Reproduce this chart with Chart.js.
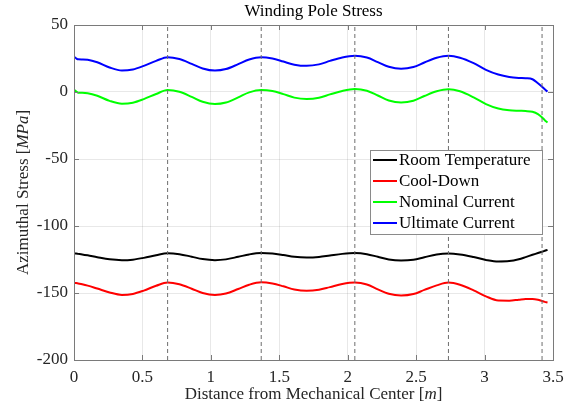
<!DOCTYPE html>
<html><head><meta charset="utf-8">
<script src="https://cdn.jsdelivr.net/npm/chart.js@4.4.0/dist/chart.umd.min.js"></script>
<style>html,body{margin:0;padding:0;background:#fff}#wrap{width:577px;height:406px}</style>
</head><body><div id="wrap"><canvas id="c" width="577" height="406"></canvas></div>
<script>
const xPos = [0, 0.015, 0.03, 0.06, 0.1, 0.17, 0.26, 0.35, 0.43, 0.51, 0.6, 0.684, 0.77, 0.86, 0.94, 1.03, 1.11, 1.2, 1.28, 1.368, 1.45, 1.53, 1.61, 1.70, 1.79, 1.87, 1.96, 2.052, 2.14, 2.22, 2.3, 2.39, 2.48, 2.56, 2.65, 2.736, 2.82, 2.92, 3.01, 3.1, 3.18, 3.25, 3.3, 3.35, 3.39, 3.42, 3.44, 3.46];
const roomTemp = [-120.5, -120.6, -120.8, -121.2, -121.9, -123.3, -124.9, -125.5, -125.1, -123.8, -121.8, -120.3, -121, -122.9, -124.7, -125.5, -124.9, -123, -121.2, -120.2, -120.6, -121.7, -123, -123.5, -123.1, -122, -120.8, -120.2, -121, -123, -125, -125.8, -125.2, -123.3, -121.3, -120.6, -121.3, -123.2, -125.3, -126.5, -126.2, -124.8, -123.2, -121.5, -120.2, -119.2, -118.5, -117.8];
const coolDown = [-142.5, -142.6, -142.9, -143.5, -144.5, -146.7, -149.6, -151.4, -150.7, -148.2, -144.6, -142.2, -143.5, -146.8, -150, -151.4, -150.4, -147, -143.8, -142, -142.9, -145, -147.4, -148.4, -147.6, -145.6, -143.3, -142.2, -143.6, -147.3, -150.6, -151.9, -150.8, -147.7, -144.3, -142.2, -143.8, -148, -152.5, -155.6, -155.7, -155, -154.5, -154.4, -155, -156, -156.6, -157.1];
const nominal = [1.7, 0.5, -0.5, -0.6, -0.9, -2.8, -6.6, -8.7, -8, -5.3, -1.5, 1.5, 0.2, -3.6, -7.3, -9, -7.9, -4, -0.3, 1.5, 0.7, -1.6, -4.2, -5.2, -4.3, -1.8, 0.8, 2.2, 0.9, -2.6, -6.3, -7.8, -6.5, -3, 0.5, 2, 0.5, -4, -9, -12.3, -13.6, -14, -14.2, -14.8, -16.5, -19, -21, -22.7];
const ultimate = [26.3, 25.2, 24.4, 24.3, 24.1, 22.2, 18.3, 16, 16.8, 19.5, 23.2, 26, 24.6, 21, 17.6, 16, 17.1, 20.8, 24.3, 26, 25, 22.7, 20.4, 19.5, 20.6, 23.2, 25.8, 27, 25.7, 22.3, 18.8, 17.3, 18.6, 22, 25.5, 27, 25.6, 21.5, 16.5, 13, 11.2, 10.5, 10.3, 9.5, 6.5, 4, 2, 0.3];
const dashX = [0.684, 1.368, 2.052, 2.736, 3.42];
const seriesNames = ['Room Temperature', 'Cool-Down', 'Nominal Current', 'Ultimate Current'];
const seriesColors = ['#000000', '#ff0000', '#00ff00', '#0000ff'];
const xTicks = [0, 0.5, 1, 1.5, 2, 2.5, 3, 3.5];
const yTicks = [-200, -150, -100, -50, 0, 50];
const FONT = '"Liberation Serif", "Times New Roman", serif';

const seriesVals = [roomTemp, coolDown, nominal, ultimate];
const datasets = [];
dashX.forEach(x => datasets.push({
  label: '_dash', data: [{x: x, y: yTicks[0]}, {x: x, y: yTicks[yTicks.length-1]}],
  borderColor: '#6e6e6e', borderWidth: 1, borderDash: [4, 3], pointRadius: 0, fill: false
}));
seriesVals.forEach((vals, i) => datasets.push({
  label: seriesNames[i], data: vals.map((v, j) => ({x: xPos[j], y: v})),
  borderColor: seriesColors[i], borderWidth: 2, pointRadius: 0, fill: false,
  cubicInterpolationMode: 'monotone'
}));

const deco = {
  id: 'deco',
  afterDraw(chart) {
    const ctx = chart.ctx, a = chart.chartArea;
    const xs = chart.scales.x, ys = chart.scales.y;
    ctx.save();
    ctx.strokeStyle = '#7a7a7a'; ctx.lineWidth = 1;
    ctx.strokeRect(Math.round(a.left)+0.5, Math.round(a.top)+0.5, Math.round(a.right-a.left), Math.round(a.bottom-a.top));
    ctx.beginPath();
    xTicks.forEach(t => { const p = Math.round(xs.getPixelForValue(t))+0.5;
      ctx.moveTo(p, a.bottom); ctx.lineTo(p, a.bottom-5); ctx.moveTo(p, a.top); ctx.lineTo(p, a.top+5); });
    yTicks.forEach(t => { const p = Math.round(ys.getPixelForValue(t))+0.5;
      ctx.moveTo(a.left, p); ctx.lineTo(a.left+5, p); ctx.moveTo(a.right, p); ctx.lineTo(a.right-5, p); });
    ctx.stroke();
    ctx.fillStyle = '#000';
    ctx.font = '17px ' + FONT; ctx.textAlign = 'center'; ctx.textBaseline = 'middle';
    ctx.fillText('Winding Pole Stress', (a.left + a.right)/2, 12);
    const drawMixed = (parts, cx, cy) => {
      let w = 0;
      parts.forEach(p => { ctx.font = p[1] + '17px ' + FONT; w += ctx.measureText(p[0]).width; });
      let x = cx - w/2; ctx.textAlign = 'left';
      parts.forEach(p => { ctx.font = p[1] + '17px ' + FONT; ctx.fillText(p[0], x, cy); x += ctx.measureText(p[0]).width; });
    };
    ctx.fillStyle = '#262626';
    drawMixed([['Distance from Mechanical Center [', ''], ['m', 'italic '], [']', '']], (a.left + a.right)/2, 395);
    ctx.save();
    ctx.translate(24, (a.top + a.bottom)/2); ctx.rotate(-Math.PI/2);
    drawMixed([['Azimuthal Stress [', ''], ['MPa', 'italic '], [']', '']], 0, 0);
    ctx.restore();
    const lx = 370.5, ly = 150.5, lw = 172, lh = 84;
    ctx.fillStyle = '#fff'; ctx.fillRect(lx, ly, lw, lh);
    ctx.strokeStyle = '#8a8a8a'; ctx.strokeRect(lx, ly, lw, lh);
    ctx.font = '17px ' + FONT; ctx.textAlign = 'left'; ctx.textBaseline = 'middle';
    const ds = chart.data.datasets.filter(d => d.label !== '_dash');
    ds.forEach((d, i) => {
      const y = 160 + i*21;
      ctx.strokeStyle = d.borderColor; ctx.lineWidth = 2;
      ctx.beginPath(); ctx.moveTo(373, y); ctx.lineTo(397, y); ctx.stroke();
      ctx.fillStyle = '#000'; ctx.fillText(d.label, 399, y + 1);
    });
    ctx.restore();
  }
};

new Chart(document.getElementById('c'), {
  type: 'line',
  data: { datasets },
  options: {
    responsive: false, animation: false, devicePixelRatio: 1,
    layout: { padding: { top: 25, right: 24, left: 0, bottom: 0 } },
    plugins: { legend: { display: false }, tooltip: { enabled: false }, title: { display: false } },
    scales: {
      x: {
        type: 'linear', min: xTicks[0], max: xTicks[xTicks.length-1],
        afterBuildTicks: s => { s.ticks = xTicks.map(v => ({value: v})); },
        afterFit: s => { s.height = 46; },
        grid: { color: 'rgba(0,0,0,0.09)', drawTicks: false },
        border: { display: false },
        ticks: { padding: 7, color: '#262626', font: { family: FONT, size: 17 }, maxRotation: 0,
          callback: v => String(v) }
      },
      y: {
        type: 'linear', min: yTicks[0], max: yTicks[yTicks.length-1],
        afterBuildTicks: s => { s.ticks = yTicks.map(v => ({value: v})); },
        afterFit: s => { s.width = 74; },
        grid: { color: 'rgba(0,0,0,0.09)', drawTicks: false },
        border: { display: false },
        ticks: { padding: 6, color: '#262626', font: { family: FONT, size: 17 },
          callback: v => String(v) }
      }
    }
  },
  plugins: [deco]
});
</script></body></html>
